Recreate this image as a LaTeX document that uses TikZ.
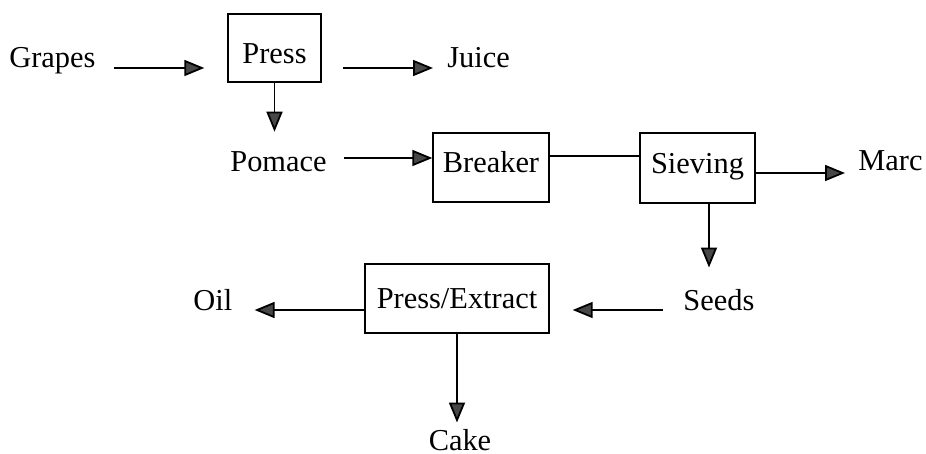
\documentclass[tikz,border=0pt]{standalone}
\usepackage{fontspec}
\setmainfont{Liberation Serif}
\usetikzlibrary{arrows.meta}

\tikzset{
  lbl/.style={inner sep=0pt, anchor=base west},
  unit/.style={draw, line width=0.7pt, inner sep=0pt},
  flow/.style={line width=0.9pt, -{Triangle[length=10pt, width=8pt, fill=black!72]}},
  link/.style={line width=0.9pt}
}

\begin{document}
\begin{tikzpicture}[x=0.5pt, y=-0.5pt, font=\fontsize{15.2}{18}\selectfont]
\useasboundingbox (0,0) rectangle (926,454);

% first row
\node[lbl] (grapes) at (9,68) {Grapes};
\node[unit, minimum width=46.5pt, minimum height=34pt, text height=16pt, text depth=0pt] (press) at (274.5,48) {Press};
\node[lbl] (juice) at (447,68) {Juice};

% second row
\node[lbl, anchor=base] (pomace) at (278.5,172) {Pomace};
\node[unit, minimum width=58pt, minimum height=34.5pt, text height=8.5pt, text depth=3pt] (breaker) at (491,167.5) {Breaker};
\node[unit, minimum width=57.5pt, minimum height=35pt, text height=8.5pt, text depth=3pt] (sieving) at (697.5,168) {Sieving};
\node[lbl] (marc) at (858,171) {Marc};

% third row
\node[lbl] (oil) at (193,310) {Oil};
\node[unit, minimum width=92pt, minimum height=34.5pt] (pex) at (457,298.5) {Press/Extract};
\node[lbl] (seeds) at (683,310) {Seeds};
\node[lbl, anchor=base] (cake) at (460,450) {Cake};

\draw[flow] ([xshift=9pt]grapes.base east) -- ([xshift=-11.5pt]grapes.base east -| press.west);
\draw[flow] ([xshift=10.5pt]juice.base west -| press.east) -- ([xshift=-7pt]juice.base west);
\draw[flow] (press.south) -- ([yshift=10pt]pomace.north -| press.south);
\draw[flow] ([xshift=8.5pt, yshift=7pt]pomace.base east) -- ([yshift=7pt]pomace.base east -| breaker.west);
\draw[link] ([yshift=5.75pt]breaker.east) -- ([yshift=5.75pt]breaker.east -| sieving.west);
\draw[flow] ([yshift=-1pt]marc.base west -| sieving.east) -- ([xshift=-6.5pt, yshift=-1pt]marc.base west);
\draw[flow] ([xshift=5.75pt]sieving.south) -- ([xshift=5.75pt, yshift=10.5pt]sieving.south |- seeds.north);
\draw[flow] ([xshift=-10pt]seeds.base west) -- ([xshift=11.5pt]seeds.base west -| pex.east);
\draw[flow] (oil.base east -| pex.west) -- ([xshift=11pt]oil.base east);
\draw[flow] (pex.south) -- ([yshift=3pt]cake.north -| pex.south);

\end{tikzpicture}
\end{document}
